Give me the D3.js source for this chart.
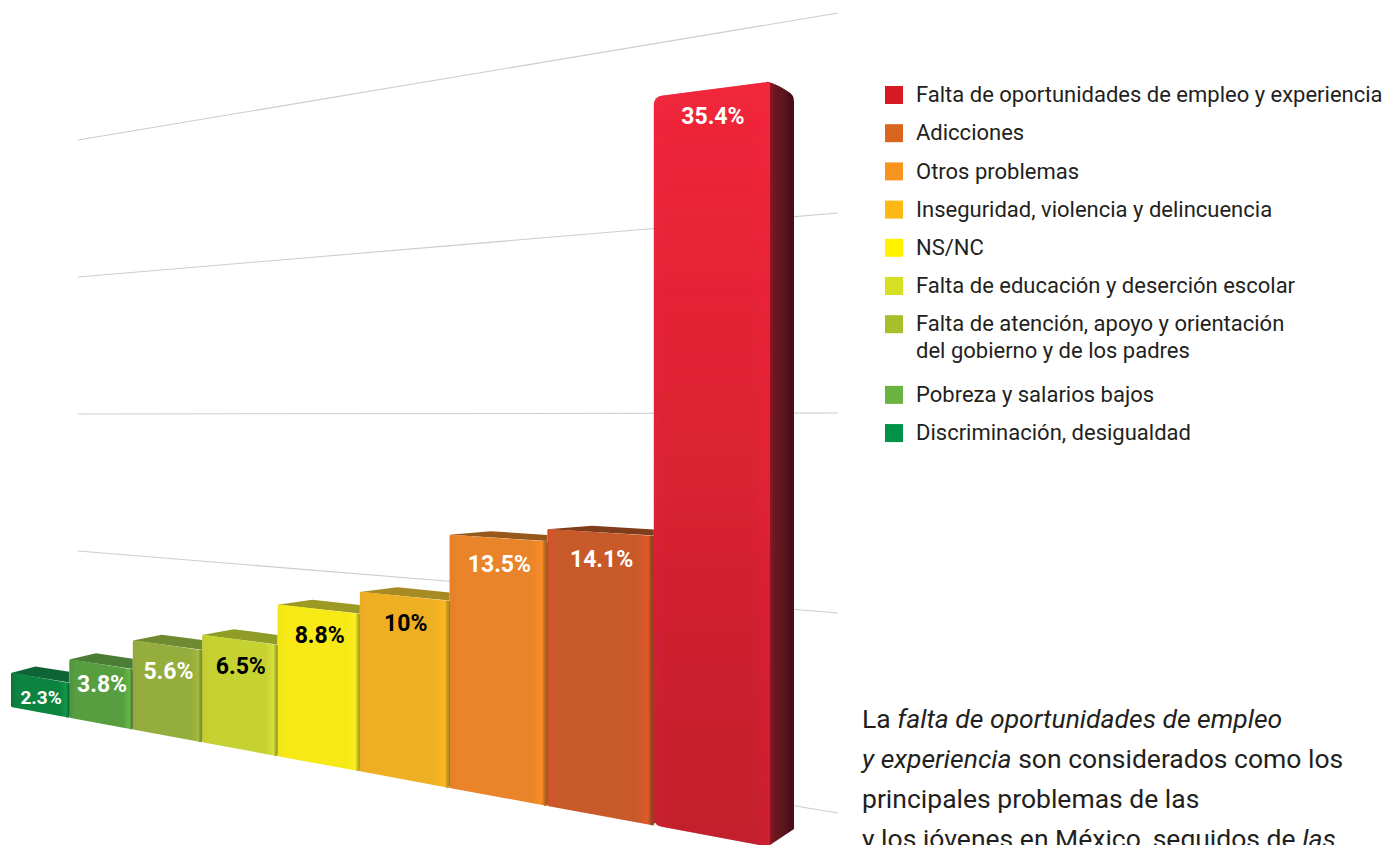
<!DOCTYPE html>
<html><head><meta charset="utf-8">
<script src="https://cdn.jsdelivr.net/npm/d3@7"></script>
<style>
html,body{margin:0;padding:0;background:#fff;overflow:hidden}
svg{display:block}
text{font-family:Roboto,"Open Sans",sans-serif}
</style></head><body>
<div id="chart"></div>
<script>
// ---- data, ordered from the smallest bar to the largest ----
const categories = ["Discriminación, desigualdad","Pobreza y salarios bajos","Falta de atención, apoyo y orientación\ndel gobierno y de los padres","Falta de educación y deserción escolar","NS/NC","Inseguridad, violencia y delincuencia","Otros problemas","Adicciones","Falta de oportunidades de empleo y experiencia"];
const values = [2.3,3.8,5.6,6.5,8.8,10,13.5,14.1,35.4];
const valueLabels = ["2.3%","3.8%","5.6%","6.5%","8.8%","10%","13.5%","14.1%","35.4%"];
const legendColors = ["#009247","#6bb33f","#a9be2b","#d7df23","#fff200","#fdb913","#f7941e","#d9651f","#d71921"];
const faceLeft = ["#0a6f3a","#4e9440","#93a93f","#c0cc33","#f2e61a","#eca928","#e57f2b","#d4502a","#d9203a"];
const faceMid = ["#08833f","#569e3f","#95ad3c","#c6d131","#f6e912","#eeb024","#e9842b","#c85a29","#d0202f"];
const faceRight = ["#0d9a4a","#62ba45","#a3ba3a","#d8de3a","#fbee1e","#fdb91f","#f98d22","#e2592a","#dc2233"];
const faceTop = ["#0f6535","#4c7d36","#6f8a30","#8f9c28","#9c9a20","#a68a20","#97591c","#7f3d1a","#7a1220"];
const labelColors = ["#fff","#fff","#fff","#000","#000","#000","#fff","#fff","#fff"];
const gridTicks = [0,10,20,30,40];
const noteLines = [
  [["La ","normal"],["falta de oportunidades de empleo","italic"]],
  [["y experiencia","italic"],[" son considerados como los","normal"]],
  [["principales problemas de las","normal"]],
  [["y los jóvenes en México, seguidos de ","normal"],["las","italic"]]
];

const W = 1385, H = 845;
const svg = d3.select("#chart").append("svg").attr("width",W).attr("height",H);
const defs = svg.append("defs");
defs.append("filter").attr("id","soft").append("feGaussianBlur").attr("stdDeviation",0.6);

// Perspective: bars widen geometrically along the floor line
const ratio = 1.09, n = values.length;
const depth = i => Math.pow(ratio,i);
const xFloor = d3.scaleLinear().domain([depth(0),depth(n)]).range([11,770]);
const x = i => xFloor(depth(i));
const floorY = d3.scaleLinear().domain([11,656]).range([707,826]);   // base line of the bars
const unit = d3.scaleLinear().domain([11,656]).range([14.8,20.6]);   // px per percentage point at x
const yAt = (v,px) => floorY(px) - v*unit(px);
const roof = d3.scaleLinear().domain([680,530]).range([11,6]);       // visible depth of the top face

// Back wall grid lines
const gridLeft = d3.scaleLinear().domain([0,40]).range([688,140]);
const gridRight = d3.scaleLinear().domain([0,40]).range([813,13]);
const gridX = [78,838];
svg.append("g").selectAll("line").data(gridTicks).join("line")
  .attr("x1",gridX[0]).attr("x2",gridX[1])
  .attr("y1",d=>gridLeft(d)).attr("y2",d=>gridRight(d))
  .attr("stroke","#cdcdcd").attr("stroke-width",1.1);

// Gradients
values.forEach((v,i)=>{
  const g = defs.append("linearGradient").attr("id","f"+i);
  const edge = v > 30 ? faceRight[i] : d3.interpolateRgb(faceMid[i],faceTop[i])(.75);
  [[0,faceLeft[i]],[.1,faceMid[i]],[.84,faceMid[i]],[.945,faceRight[i]],[.98,edge],[1,edge]]
    .forEach(s=>g.append("stop").attr("offset",s[0]).attr("stop-color",s[1]));
});
const shade = defs.append("linearGradient").attr("id","shade").attr("x1",0).attr("x2",0).attr("y1",0).attr("y2",1);
[[0,"#ff2840",.7],[.45,"#f02238",.4],[1,"#a81a28",.35]]
  .forEach(s=>shade.append("stop").attr("offset",s[0]).attr("stop-color",s[1]).attr("stop-opacity",s[2]));
const side = defs.append("linearGradient").attr("id","side");
[[0,"#a81c2a"],[.3,"#6a1420"],[1,"#45101a"]]
  .forEach(s=>side.append("stop").attr("offset",s[0]).attr("stop-color",s[1]));

const sideDepth = 24;
const bars = svg.append("g").selectAll("g").data(values).join("g");

bars.each(function(v,i){
  const g = d3.select(this);
  const x0 = x(i), x1 = x(i+1);
  const tl = yAt(v,x0), tr = yAt(v,x1), bl = floorY(x0), br = floorY(x1);
  const big = v > 30;
  const r = big ? 8 : 1.5;

  // side face, seen only where no neighbour covers it
  const sp = d3.path();
  sp.moveTo(x1-3,tr);
  sp.quadraticCurveTo(x1+8,tr+3,x1+sideDepth-6,tr+10);
  sp.quadraticCurveTo(x1+sideDepth,tr+13,x1+sideDepth,tr+20);
  sp.lineTo(x1+sideDepth,br-18);
  sp.lineTo(x1-3,br);
  sp.closePath();
  g.append("path").attr("d",sp.toString()).attr("fill","url(#side)").attr("filter","url(#soft)");

  // top face
  const t = roof(tl);
  if (t > 0) {
    const topLine = d3.line().x(d=>d[0]).y(d=>d[1]);
    g.append("path").attr("d",topLine([[x0,tl],[x0+(x1-x0)*.42,tl-t*.6],[x1,tr-t],[x1,tr]])+"Z")
      .attr("fill",faceTop[i]).attr("filter","url(#soft)");
  }

  // front face
  const fp = d3.path();
  fp.moveTo(x0,bl-r);
  fp.lineTo(x0,tl+r);
  fp.quadraticCurveTo(x0,tl,x0+r,tl-r*.15);
  fp.lineTo(x1-r,tr+r*.15);
  fp.quadraticCurveTo(x1,tr,x1,tr+r*.3);
  fp.lineTo(x1,br);
  fp.lineTo(x0+r,bl+r*.15);
  fp.quadraticCurveTo(x0,bl,x0,bl-r);
  fp.closePath();
  g.append("path").attr("d",fp.toString()).attr("fill","url(#f"+i+")").attr("filter","url(#soft)");
  if (big) g.append("path").attr("d",fp.toString()).attr("fill","url(#shade)").attr("filter","url(#soft)");

  // value label
  const cx = (x0+x1)/2;
  g.append("text").attr("x",cx+1).attr("y",yAt(v,cx)+(v<5?19:26)).attr("dy",".36em")
    .attr("text-anchor","middle")
    .attr("font-size",v<3?19:23).attr("font-weight",700)
    .attr("fill",labelColors[i]).text(valueLabels[i]);
});

// Legend, largest first; a wrapped entry takes extra room
const order = d3.range(n).reverse();
const linesOf = i => categories[i].split("\n");
let acc = 0;
const rowUnit = new Map();
order.forEach(i=>{ rowUnit.set(i,acc); acc += 1 + (linesOf(i).length-1)*.85; });
const legendY = d3.scaleLinear().domain([0,1]).range([95,133.2]);
const legend = svg.append("g").selectAll("g").data(order).join("g")
  .attr("transform",i=>`translate(885,${legendY(rowUnit.get(i))})`);
legend.append("rect").attr("x",0).attr("y",-9).attr("width",18).attr("height",18)
  .attr("fill",i=>legendColors[i]);
legend.append("text").attr("x",31).attr("fill","#231f20")
  .attr("font-size",22).attr("font-weight",400)
  .selectAll("tspan").data(i=>linesOf(i)).join("tspan")
  .attr("x",31).attr("y",(d,k)=>k*27).attr("dy",".33em").text(d=>d);

// Note text (runs off the bottom of the page, as in the reference)
const note = svg.append("g");
noteLines.forEach((runs,k)=>{
  note.append("text").attr("x",862).attr("y",728+k*40).attr("fill","#231f20").attr("font-size",26.5)
    .selectAll("tspan").data(runs).join("tspan")
    .attr("font-style",d=>d[1]).text(d=>d[0]);
});
</script>
</body></html>
